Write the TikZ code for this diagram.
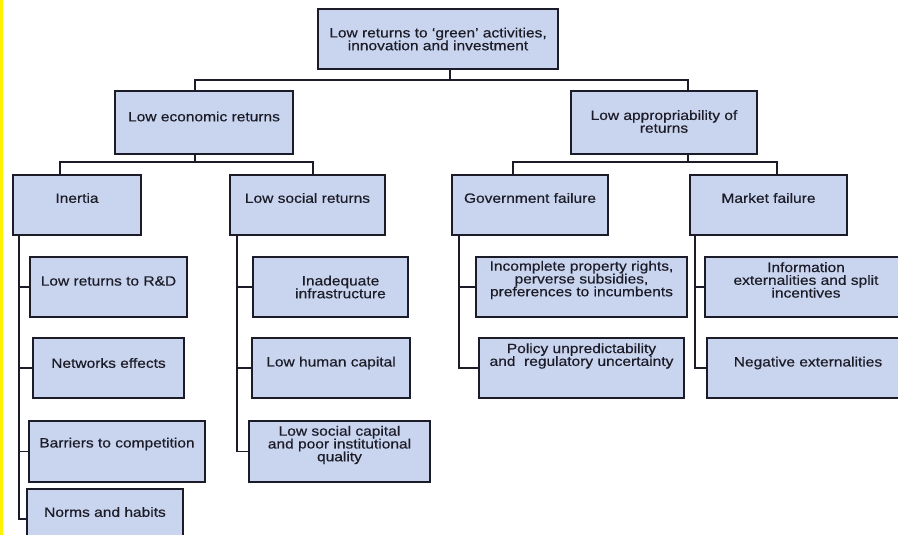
\documentclass[tikz,border=0pt]{standalone}
\usepackage{fontspec}
\setmainfont{Liberation Sans}[FakeStretch=1.15,FakeBold=0.4]
\definecolor{boxfill}{RGB}{201,212,238}
\definecolor{ink}{RGB}{28,28,40}
\begin{document}
\begin{tikzpicture}[x=1pt,y=-1pt,
  box/.style={draw=ink, line width=1.8pt, fill=boxfill, inner sep=0pt},
  lbl/.style={font=\fontsize{13.5}{12.8}\selectfont, text=ink, align=center, inner sep=0pt},
  conn/.style={draw=ink, line width=1.3pt}]
\useasboundingbox (0,0) rectangle (898,535);
\clip (0,0) rectangle (898,535);
\fill[yellow] (0,0) rectangle (3,535);

% level 0
\node[box, minimum width=240pt, minimum height=60pt,
  label={[lbl]center:{Low returns to `green' activities,\\innovation and investment}}] (top) at (438,39) {};
% level 1
\node[box, minimum width=178pt, minimum height=63pt,
  label={[lbl,yshift=6pt]center:{Low economic returns}}] (econ) at (204,122.5) {};
\node[box, minimum width=186pt, minimum height=63pt,
  label={[lbl,yshift=1pt]center:{Low appropriability of\\returns}}] (approp) at (664,122.5) {};
% level 2
\node[box, minimum width=128pt, minimum height=60pt,
  label={[lbl,yshift=7pt]center:{Inertia}}] (inertia) at (77,205) {};
\node[box, minimum width=155pt, minimum height=60pt,
  label={[lbl,yshift=7pt]center:{Low social returns}}] (lsr) at (307.5,205) {};
\node[box, minimum width=156pt, minimum height=60pt,
  label={[lbl,yshift=7pt]center:{Government failure}}] (gov) at (530,205) {};
\node[box, minimum width=157pt, minimum height=60pt,
  label={[lbl,yshift=7pt]center:{Market failure}}] (mkt) at (768.5,205) {};
% leaves: inertia
\node[box, minimum width=157pt, minimum height=60pt,
  label={[lbl,yshift=6pt]center:{Low returns to R\&D}}] (rd) at (108.5,287) {};
\node[box, minimum width=151pt, minimum height=60pt,
  label={[lbl,yshift=5pt]center:{Networks effects}}] (net) at (108.5,368) {};
\node[box, minimum width=176pt, minimum height=61pt,
  label={[lbl,yshift=7.5pt]center:{Barriers to competition}}] (barr) at (117,451.5) {};
\node[box, minimum width=156pt, minimum height=56pt,
  label={[lbl,yshift=5pt]center:{Norms and habits}}] (norms) at (105,517) {};
% leaves: low social returns
\node[box, minimum width=155pt, minimum height=60pt,
  label={[lbl,xshift=10pt]center:{Inadequate\\infrastructure}}] (infra) at (330.5,287) {};
\node[box, minimum width=158pt, minimum height=60pt,
  label={[lbl,yshift=5pt]center:{Low human capital}}] (human) at (331,368) {};
\node[box, minimum width=181pt, minimum height=61pt,
  label={[lbl,yshift=6.5pt]center:{Low social capital\\and poor institutional\\quality}}] (soccap) at (339.5,451.5) {};
% leaves: government failure
\node[box, minimum width=211pt, minimum height=60pt,
  label={[lbl,yshift=7pt]center:{Incomplete property rights,\\perverse subsidies,\\preferences to incumbents}}] (prop) at (581.5,287) {};
\node[box, minimum width=205pt, minimum height=60pt,
  label={[lbl,yshift=12pt]center:{Policy unpredictability\\and\ \ regulatory uncertainty}}] (policy) at (581.5,368) {};
% leaves: market failure
\node[box, minimum width=200pt, minimum height=60pt,
  label={[lbl,yshift=7pt,xshift=1pt]center:{Information\\externalities and split\\incentives}}] (info) at (805,287) {};
\node[box, minimum width=198pt, minimum height=60pt,
  label={[lbl,yshift=5pt,xshift=2pt]center:{Negative externalities}}] (neg) at (806,368) {};

% tree connectors
\draw[conn] ([xshift=12pt]top.south) -- ++(0,10) -| ([xshift=-9pt]econ.north);
\draw[conn] ([xshift=12pt]top.south) -- ++(0,10) -| ([xshift=24pt]approp.north);
\draw[conn] ([xshift=-9pt]econ.south) -- ++(0,7) -| ([xshift=-17pt]inertia.north);
\draw[conn] ([xshift=-9pt]econ.south) -- ++(0,7) -| ([xshift=5.5pt]lsr.north);
\draw[conn] ([xshift=24pt]approp.south) -- ++(0,7) -| ([xshift=-17pt]gov.north);
\draw[conn] ([xshift=24pt]approp.south) -- ++(0,7) -| ([xshift=8.5pt]mkt.north);

% spines
\draw[conn] ([xshift=7pt]inertia.south west) |- (rd.west);
\draw[conn] ([xshift=7pt]inertia.south west) |- (net.west);
\draw[conn] ([xshift=7pt]inertia.south west) |- (barr.west);
\draw[conn] ([xshift=7pt]inertia.south west) |- ([yshift=-2pt]norms.west);
\draw[conn] ([xshift=8pt]lsr.south west) |- (infra.west);
\draw[conn] ([xshift=8pt]lsr.south west) |- (human.west);
\draw[conn] ([xshift=8pt]lsr.south west) |- (soccap.west);
\draw[conn] ([xshift=8pt]gov.south west) |- (prop.west);
\draw[conn] ([xshift=8pt]gov.south west) |- (policy.west);
\draw[conn] ([xshift=6pt]mkt.south west) |- (info.west);
\draw[conn] ([xshift=6pt]mkt.south west) |- (neg.west);
\end{tikzpicture}
\end{document}
